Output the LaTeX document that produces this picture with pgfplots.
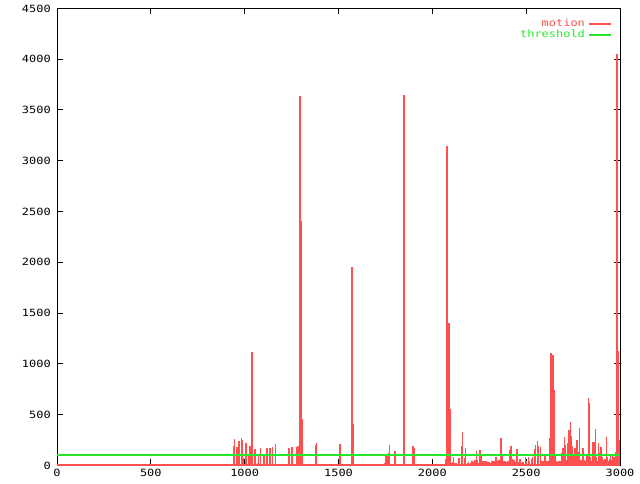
\documentclass[border=0pt]{standalone}
\usepackage{pgfplots}
\pgfplotsset{compat=1.18}
\usepackage{fontspec}
\newfontfamily\gp[FakeStretch=1.2]{DejaVu Sans Mono}
\definecolor{motionred}{RGB}{255,80,80}
\definecolor{threshgreen}{RGB}{40,230,40}

\begin{document}
\begin{tikzpicture}[x=1bp,y=1bp]
\path (0,0) rectangle (460.8,345.6);
\begin{axis}[
  at={(41.04bp,12.96bp)}, anchor=south west,
  scale only axis,
  width=405.36bp, height=329.04bp,
  xmin=0, xmax=3000, ymin=0, ymax=4500,
  xtick={0,500,...,3000},
  ytick={0,500,...,4500},
  tick align=inside,
  major tick length=4.3bp,
  tick style={black, line width=0.72bp},
  axis line style={black, line width=0.72bp},
  ticklabel style={font=\gp\fontsize{7.2}{8}\selectfont},
  /pgf/number format/assume math mode=true,
  /pgf/number format/1000 sep={},
  xticklabel style={yshift=0.5bp},
  yticklabel style={xshift=-1bp},
  legend style={draw=none, fill=none, at={(0.986,0.984)}, anchor=north east,
    font=\gp\fontsize{7.2}{8}\selectfont, row sep=-3bp,
    inner sep=0pt},
  legend cell align=right,
  legend plot pos=right,
  legend image code/.code={\draw[#1, line width=1.4bp, mark=none] (0bp,0bp) -- (16bp,0bp);},
]
\addplot[ycomb, motionred, line width=0.8bp, line cap=butt, mark=none] coordinates {
(943,190)(948,256)(959,177)(965,217)(970,236)(981,266)(986,249)(991,69)
(1007,217)(1012,167)(1023,108)(1028,187)(1034,187)(1039,1113)(1044,118)
(1050,158)(1055,158)(1060,118)(1066,20)(1076,112)(1082,167)(1103,108)
(1119,167)(1135,167)(1146,177)(1162,207)(1236,167)(1252,177)(1279,177)
(1284,190)(1290,2502)(1295,3638)(1300,2404)(1306,453)(1380,197)(1385,217)
(1508,207)(1572,1950)(1577,404)(1748,20)(1753,108)(1758,59)(1764,108)
(1769,118)(1774,197)(1801,138)(1844,295)(1849,3650)(1892,108)(1897,187)
(1902,167)
(2073,59)(2078,3145)(2083,945)(2089,1399)(2094,552)(2099,92)(2105,20)
(2110,32)(2115,79)(2121,20)(2126,20)(2131,25)(2137,20)(2142,69)(2147,69)
(2153,89)(2158,190)(2163,325)(2169,69)(2174,20)(2179,167)(2185,25)(2190,25)
(2195,30)(2201,20)(2206,25)(2211,40)(2217,30)(2222,25)(2227,49)(2233,138)
(2238,52)(2243,20)(2249,20)(2254,151)(2259,89)(2265,40)(2270,30)(2275,40)
(2281,25)(2286,40)(2291,30)(2297,25)(2302,35)(2307,25)(2313,40)(2318,40)
(2323,40)(2329,40)(2334,40)(2339,79)(2345,40)(2350,40)(2355,50)(2361,207)
(2366,266)(2371,92)(2377,30)(2382,40)(2387,40)(2393,25)(2398,30)(2403,40)
(2409,95)(2414,151)(2419,187)(2425,59)(2430,30)(2435,52)(2441,25)(2446,30)
(2451,158)(2456,35)(2462,30)(2467,59)(2472,30)(2478,25)(2483,30)(2488,30)
(2494,79)(2499,40)(2504,40)(2510,79)(2515,40)
(2520,39)(2526,39)(2531,59)(2536,79)(2542,30)(2547,158)(2552,200)(2558,243)
(2563,190)(2568,89)(2574,177)(2579,30)(2584,39)(2590,39)(2595,39)(2600,112)
(2606,39)(2611,30)(2616,39)(2622,49)(2627,266)(2632,1103)(2638,299)(2643,1090)
(2648,742)(2654,89)(2659,39)(2664,30)(2670,39)(2675,30)(2680,39)(2686,30)
(2691,118)(2696,167)(2702,276)(2707,200)(2712,49)(2718,66)(2723,217)(2728,348)
(2734,427)(2739,289)(2744,190)(2750,59)(2755,112)(2760,167)(2766,85)(2771,249)
(2776,135)(2782,364)(2787,49)(2792,49)(2798,49)(2803,167)(2808,49)(2814,39)
(2819,39)(2824,92)(2830,660)(2835,611)(2840,85)(2846,39)(2851,39)(2856,233)
(2862,233)(2867,355)(2872,85)(2878,45)(2883,217)(2888,118)(2894,184)(2899,184)
(2904,79)(2910,49)(2915,39)(2920,59)(2926,283)(2931,85)(2936,39)(2942,66)
(2947,112)(2952,49)(2958,102)(2963,59)(2968,79)(2974,135)(2979,39)(2984,4050)
(2990,1123)(2995,249)
};
\addlegendentry{\textcolor{motionred}{motion}}
\addplot[motionred, line width=1.4bp, forget plot] coordinates {(0,0)(3000,0)};
\addplot[draw=threshgreen, line width=1.1bp, mark=none] coordinates {(0,100) (1500,100) (3000,100)};
\addlegendentry{\textcolor{threshgreen}{threshold}}
\end{axis}
\end{tikzpicture}
\end{document}
